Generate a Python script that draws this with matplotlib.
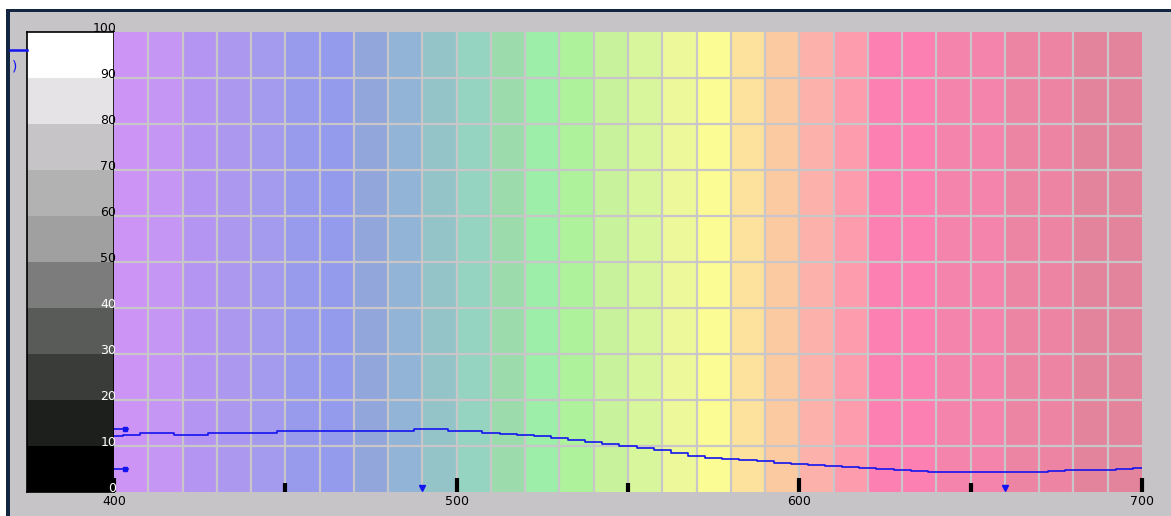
import matplotlib.pyplot as plt
import matplotlib.lines as mlines
import matplotlib.patches as mpatches

# reflectance curve (nm, %)
wavelength = [400, 405, 410, 415, 420, 425, 430, 435, 440, 445,
              450, 455, 460, 465, 470, 475, 480, 485, 490, 495,
              500, 505, 510, 515, 520, 525, 530, 535, 540, 545,
              550, 555, 560, 565, 570, 575, 580, 585, 590, 595,
              600, 605, 610, 615, 620, 625, 630, 635, 640, 645,
              650, 655, 660, 665, 670, 675, 680, 685, 690, 695, 700]
reflectance = [12.2, 12.4, 12.8, 12.8, 12.5, 12.5, 12.8, 12.8, 12.8, 12.8,
               13.3, 13.3, 13.3, 13.3, 13.3, 13.3, 13.3, 13.3, 13.6, 13.6,
               13.3, 13.3, 12.9, 12.7, 12.5, 12.2, 11.8, 11.2, 10.8, 10.4,
               10.0, 9.6, 9.2, 8.5, 7.9, 7.5, 7.2, 7.0, 6.8, 6.4,
               6.0, 5.8, 5.6, 5.4, 5.2, 5.0, 4.8, 4.5, 4.3, 4.3,
               4.3, 4.3, 4.3, 4.3, 4.3, 4.5, 4.8, 4.8, 4.8, 5.0, 5.2]

# spectrum bands, 10 nm each
band_start = [400, 410, 420, 430, 440, 450, 460, 470, 480, 490,
              500, 510, 520, 530, 540, 550, 560, 570, 580, 590,
              600, 610, 620, 630, 640, 650, 660, 670, 680, 690]
band_colors = ['#CC94F4', '#C696F4', '#B496F2', '#AC98EE', '#A49AEE',
               '#989AEC', '#949AEC', '#92A6DC', '#92B4D6', '#94C4C8',
               '#94D4C0', '#9CDCAC', '#9CEEA8', '#AEF29C', '#C8F29C',
               '#D8F69C', '#ECF89A', '#FCFC94', '#FCE29C', '#FCCAA0',
               '#FCB2AA', '#FC9CAC', '#FC80B2', '#FC80B2', '#F484AC',
               '#F484AC', '#EC84A4', '#EE84A4', '#E4849C', '#E4849C']

# gray scale bar on the left
gray_levels = [0, 10, 20, 30, 40, 50, 60, 70, 80, 90]
gray_colors = ['#000000', '#1C1F1C', '#3A3C3A', '#585B58', '#7C7C7C',
               '#A0A0A0', '#B2B2B2', '#C6C4C6', '#E6E3E6', '#FFFFFF']

y_values = [0, 10, 20, 30, 40, 50, 60, 70, 80, 90, 100]
y_labels = ['0', '10', '20', '30', '40', '50', '60', '70', '80', '90', '100']
x_major = [400, 500, 600, 700]
x_minor = [450, 550, 650]

marker_nm = [490, 660]        # blue triangles on the bottom
stub_levels = [13.8, 5.0]     # small blue handles at the left edge

BLUE = '#1414F0'
BG = '#C6C4C6'
GRID = '#C8C6C8'
W, H = 1171, 516


def px(x0, y0, x1, y1):
    # pixel box -> figure fraction
    return [x0 / W, 1 - y1 / H, (x1 - x0) / W, (y1 - y0) / H]


fig = plt.figure(figsize=(W / 100, H / 100), dpi=100, facecolor=BG)

# gray scale bar
axg = fig.add_axes(px(27, 32, 114, 492))
for lev, c in zip(gray_levels, gray_colors):
    axg.axhspan(lev, lev + 10, color=c, lw=0)
axg.set_xlim(0, 1)
axg.set_ylim(0, 100)
axg.set_xticks([])
axg.set_yticks([])
for s in axg.spines.values():
    s.set_color('black')
    s.set_linewidth(1.2)

# main spectrum panel
ax = fig.add_axes(px(114, 32, 1142, 492))
for s, c in zip(band_start, band_colors):
    ax.axvspan(s, s + 10, color=c, lw=0)
for s in band_start[1:]:
    ax.axvline(s, color=GRID, lw=1.6, zorder=1.2)
for v in y_values[1:-1]:
    ax.axhline(v, color=GRID, lw=1.6, zorder=1.2)
ax.set_xlim(400, 700)
ax.set_ylim(0, 100)
for s in ax.spines.values():
    s.set_visible(False)

ax.set_xticks(x_major)
ax.set_xticks(x_minor, minor=True)
ax.set_xticklabels([str(v) for v in x_major])
ax.set_yticks([])
ax.tick_params(axis='x', which='major', direction='in', length=10, width=3,
               color='black', labelsize=9, pad=2)
ax.tick_params(axis='x', which='minor', direction='in', length=6.5, width=3,
               color='black')

ax.plot(wavelength, reflectance, color=BLUE, lw=1.2, drawstyle='steps-mid', zorder=3)
for lev in stub_levels:
    ax.plot([400, 404], [lev, lev], color=BLUE, lw=1.2, zorder=3)
    ax.plot([403.2], [lev], 's', color=BLUE, ms=3.5, zorder=3)
ax.plot(marker_nm, [0.9] * len(marker_nm), 'v', color=BLUE, ms=5, clip_on=False, zorder=4)

for v, lab in zip(y_values, y_labels):
    ax.text(400.6, v, lab, ha='right', va='baseline', fontsize=9,
            color='white' if v <= 40 else 'black', clip_on=False, zorder=5)

# outer frame: white margin and dark navy border on top and left
fig.add_artist(mpatches.Rectangle((0, 1 - 9 / H), 1, 9 / H, transform=fig.transFigure,
                                  color='white', lw=0))
fig.add_artist(mpatches.Rectangle((0, 0), 6 / W, 1, transform=fig.transFigure,
                                  color='white', lw=0))
fig.add_artist(mpatches.Rectangle((6 / W, 1 - 12 / H), 1, 3 / H, transform=fig.transFigure,
                                  color='#132641', lw=0))
fig.add_artist(mpatches.Rectangle((6 / W, 0), 4 / W, 1 - 9 / H, transform=fig.transFigure,
                                  color='#132641', lw=0))

# leftover legend bits at the top left
fig.add_artist(mlines.Line2D([10 / W, 27 / W], [1 - 50 / H, 1 - 50 / H],
                             color=BLUE, lw=1.8, transform=fig.transFigure))
fig.text(12 / W, 1 - 67 / H, ')', color=BLUE, fontsize=10, va='center')

plt.savefig('out.png', dpi=100, facecolor=BG)
